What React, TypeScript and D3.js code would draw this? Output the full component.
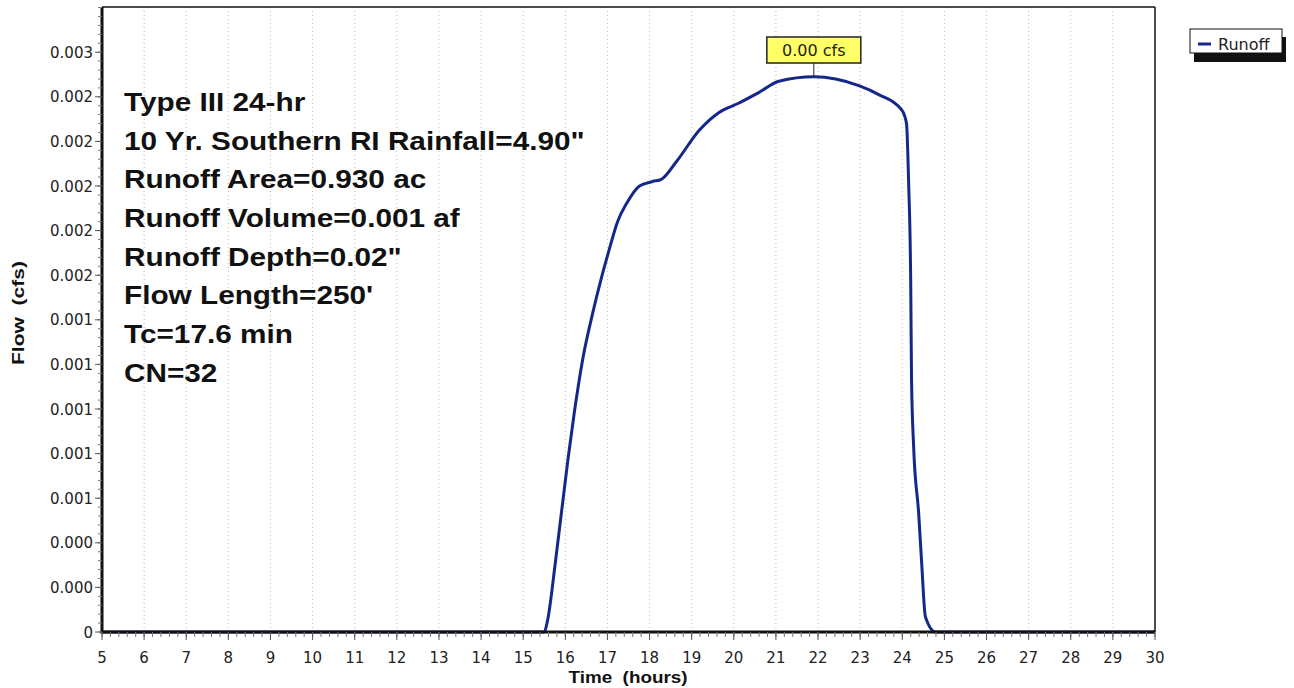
import React from 'react';
import * as d3 from 'd3';

const hours = [
  5, 15.5, 15.58, 15.77, 16.06, 16.22, 16.41, 16.65, 16.86, 17.05, 17.24, 17.45, 17.76,
  18.07, 18.28, 18.64, 19.18, 19.65, 20.1, 20.6, 21.07, 21.9, 22.97, 23.44, 23.99, 24.1,
  24.15, 24.2, 24.22, 24.27, 24.39, 24.46, 24.55, 24.79, 30,
];
const flows = [
  0, 0, 0.0000537, 0.000322, 0.00077, 0.000993, 0.00122, 0.00143, 0.00159, 0.00172,
  0.00184, 0.00192, 0.002, 0.00202, 0.00203, 0.00211, 0.00225, 0.00233, 0.00237,
  0.00242, 0.00247, 0.00249, 0.00245, 0.00241, 0.00234, 0.00228, 0.00202, 0.00157, 0.00113,
  0.00083, 0.00053, 0.00031, 0.000067, 0, 0,
];

const yTickValues = [0, 0.0002, 0.0004, 0.0006, 0.0008, 0.001, 0.0012, 0.0014, 0.0016, 0.0018, 0.002, 0.0022, 0.0024, 0.0026];
const yTickLabels = ['0', '0.000', '0.000', '0.001', '0.001', '0.001', '0.001', '0.001', '0.002', '0.002', '0.002', '0.002', '0.002', '0.003'];
const xTickValues = d3.range(5, 31);

const peak = { hour: 21.9, flow: 0.00249, label: '0.00 cfs' };

const notes = [
  'Type III 24-hr',
  '10 Yr. Southern RI Rainfall=4.90"',
  'Runoff Area=0.930 ac',
  'Runoff Volume=0.001 af',
  'Runoff Depth=0.02"',
  "Flow Length=250'",
  'Tc=17.6 min',
  'CN=32',
];

const W = 1294;
const H = 688;
const left = 102, right = 1155, top = 7, bottom = 632;

export default function App() {
  const x = d3.scaleLinear().domain([5, 30]).range([left, right]);
  const y = d3.scaleLinear().domain([0, 0.0028]).range([bottom, bottom - 0.0028 / 0.0002 * 44.6]);

  const pts = hours.map((h, i) => [h, flows[i]] as [number, number]);
  const line = d3.line<[number, number]>()
    .x(d => x(d[0]))
    .y(d => y(d[1]))
    .curve(d3.curveMonotoneX);

  const xMinor = d3.range(5, 30.001, 0.2);
  const yMinor = d3.range(0, 0.00281, 0.00004);

  const tickFont = { fontFamily: 'DejaVu Sans', fontSize: 15, fill: '#222' };
  const px = x(peak.hour), py = y(peak.flow);

  return (
    <svg width={W} height={H} style={{ position: 'absolute', left: 0, top: 0, background: '#fff' }}>
      <rect x={0} y={0} width={W} height={H} fill="#fff" />
      {/* vertical grid */}
      {xTickValues.slice(1, -1).map(t => (
        <line key={'g' + t} x1={x(t)} x2={x(t)} y1={top} y2={bottom}
          stroke="#b8b8b8" strokeWidth={1} strokeDasharray="1,3" />
      ))}

      {/* notes */}
      <g transform="translate(124,0) scale(1.19,1)">
        {notes.map((n, i) => (
          <text key={n} x={0} y={111 + i * 38.7}
            style={{ fontFamily: 'Liberation Sans, Arial', fontWeight: 'bold', fontSize: 25, fill: '#111' }}>
            {n}
          </text>
        ))}
      </g>

      {/* curve */}
      <path d={line(pts) || ''} fill="none" stroke="#14288a" strokeWidth={3} strokeLinejoin="round" />

      {/* peak label */}
      <line x1={px} x2={px} y1={py} y2={63} stroke="#222" strokeWidth={1} />
      <rect x={px - 47} y={37} width={94} height={26} fill="#ffff66" stroke="#222" strokeWidth={1.5} />
      <text x={px} y={56} textAnchor="middle"
        style={{ fontFamily: 'DejaVu Sans', fontSize: 16, fill: '#222' }}>{peak.label}</text>

      {/* frame */}
      <line x1={left} x2={right} y1={top} y2={top} stroke="#111" strokeWidth={1.5} />
      <line x1={right} x2={right} y1={top} y2={bottom} stroke="#111" strokeWidth={1.5} />
      <line x1={left} x2={left} y1={top} y2={bottom + 1.5} stroke="#111" strokeWidth={3} />
      <line x1={left - 1.5} x2={right} y1={bottom} y2={bottom} stroke="#111" strokeWidth={3} />

      {/* y ticks */}
      {yMinor.map((t, i) => (
        <line key={'ym' + i} x1={left - 4} x2={left} y1={y(t)} y2={y(t)} stroke="#777" strokeWidth={1} />
      ))}
      {yTickValues.map((t, i) => (
        <g key={'y' + i}>
          <line x1={left - 7} x2={left} y1={y(t)} y2={y(t)} stroke="#555" strokeWidth={1} />
          <text x={left - 9} y={y(t) + 5.5} textAnchor="end" style={tickFont}>{yTickLabels[i]}</text>
        </g>
      ))}

      {/* x ticks */}
      {xMinor.map((t, i) => (
        <line key={'xm' + i} x1={x(t)} x2={x(t)} y1={bottom} y2={bottom + 5} stroke="#777" strokeWidth={1} />
      ))}
      {xTickValues.map(t => (
        <g key={'x' + t}>
          <line x1={x(t)} x2={x(t)} y1={bottom} y2={bottom + 8} stroke="#555" strokeWidth={1} />
          <text x={x(t)} y={663} textAnchor="middle" style={tickFont}>{t}</text>
        </g>
      ))}

      {/* axis titles */}
      <text x={628} y={683} textAnchor="middle" xmlSpace="preserve" textLength={119} lengthAdjust="spacingAndGlyphs"
        style={{ fontFamily: 'Liberation Sans, Arial', fontWeight: 'bold', fontSize: 16, fill: '#111', whiteSpace: 'pre' }}>
        {'Time  (hours)'}
      </text>
      <text transform="translate(24,313) rotate(-90)" textAnchor="middle" xmlSpace="preserve" textLength={104} lengthAdjust="spacingAndGlyphs"
        style={{ fontFamily: 'Liberation Sans, Arial', fontWeight: 'bold', fontSize: 17, fill: '#111', whiteSpace: 'pre' }}>
        {'Flow  (cfs)'}
      </text>

      {/* legend */}
      <rect x={1194} y={37} width={92} height={25} fill="#111" />
      <rect x={1190} y={29} width={92} height={24} fill="#fff" stroke="#111" strokeWidth={1} />
      <line x1={1198} x2={1211} y1={44} y2={44} stroke="#14288a" strokeWidth={3} />
      <text x={1218} y={50} style={{ fontFamily: 'DejaVu Sans', fontSize: 16, fill: '#222' }}>Runoff</text>
    </svg>
  );
}
